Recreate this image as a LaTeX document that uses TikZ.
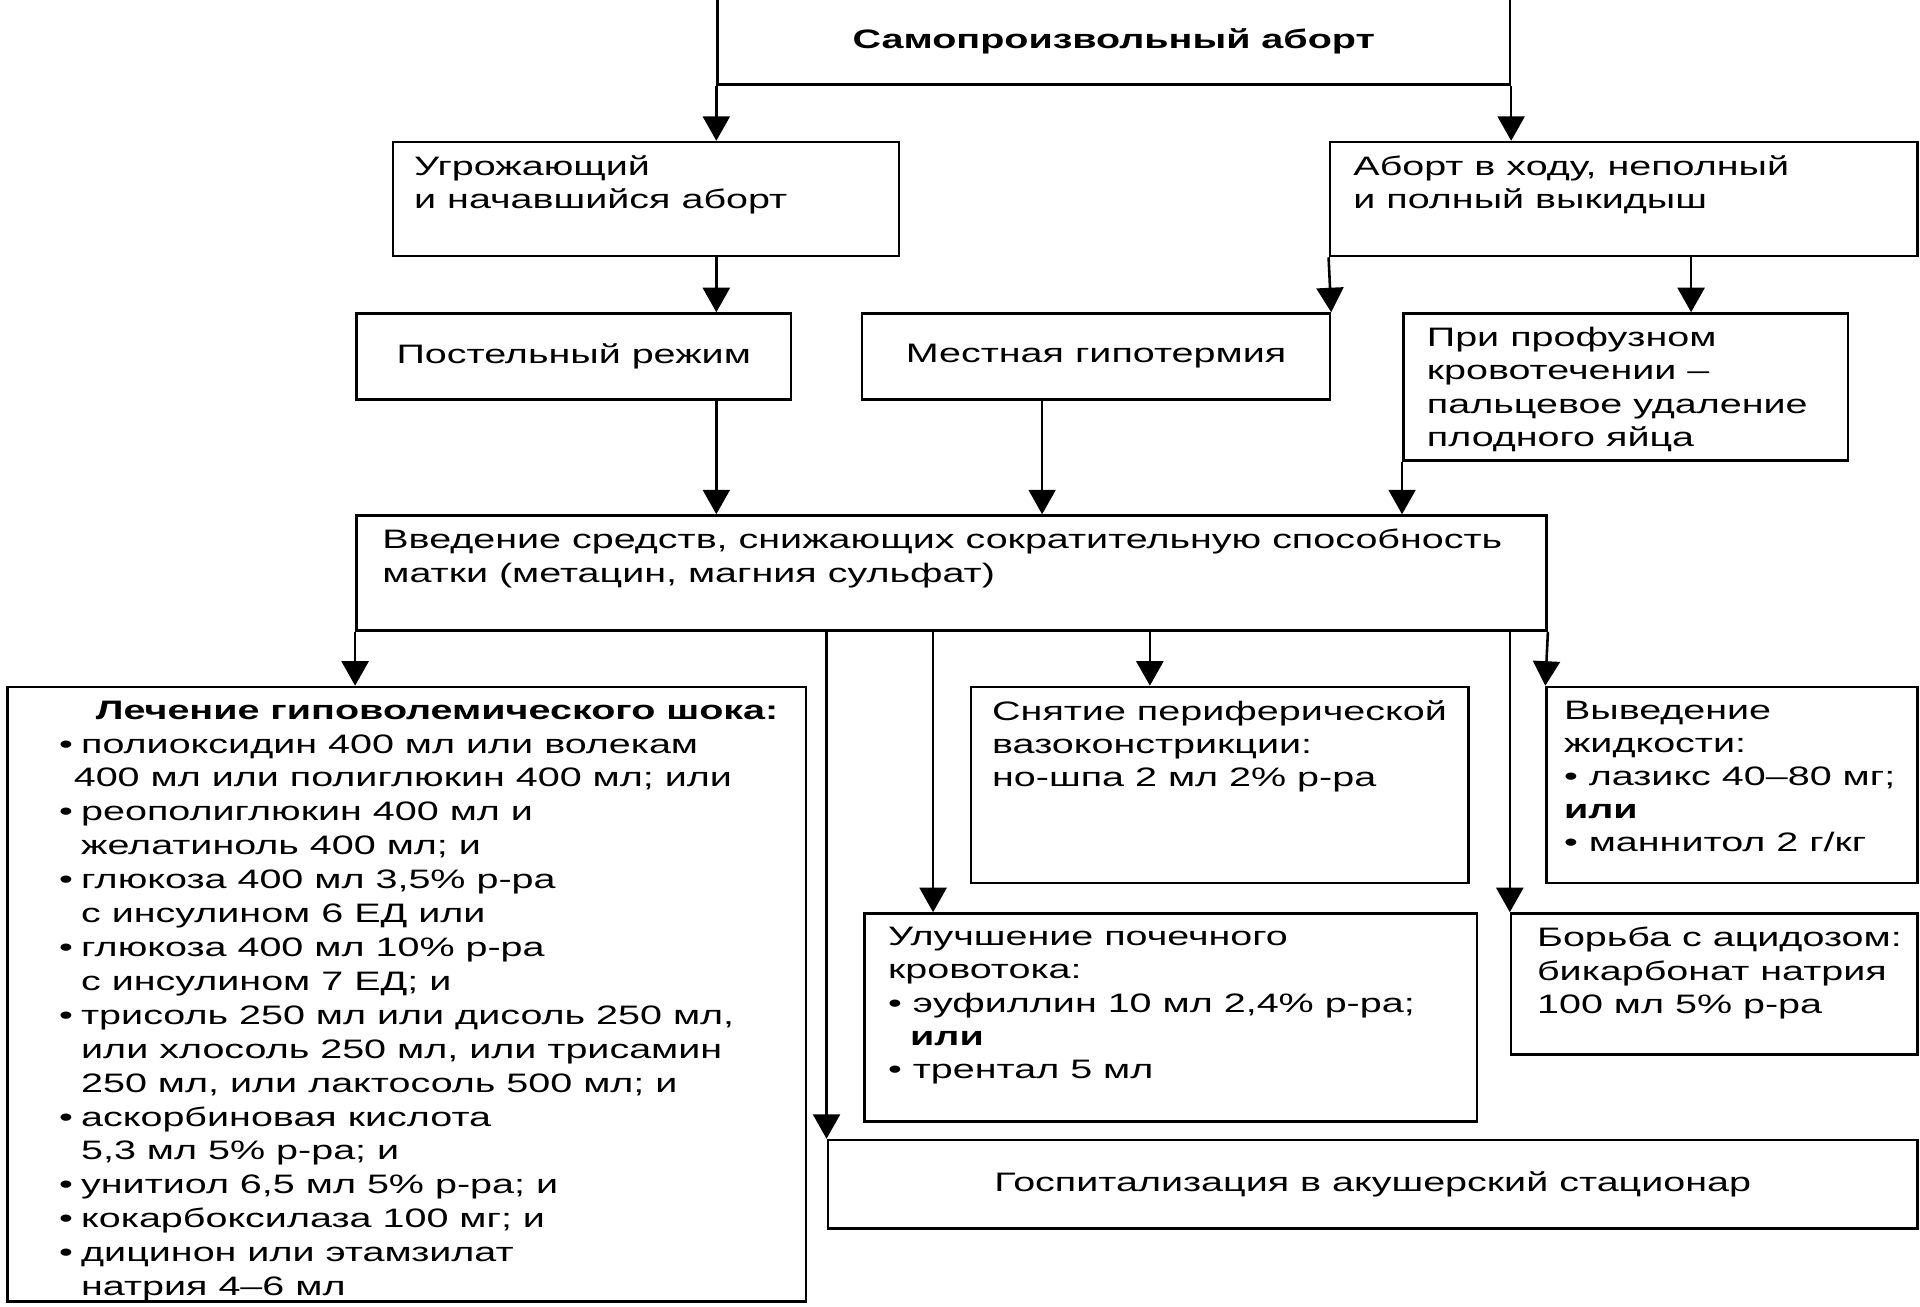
\documentclass[tikz,border=0pt]{standalone}
\usepackage{fontspec}
\setmainfont{Liberation Sans}[FakeStretch=1.48]
\usetikzlibrary{arrows.meta}
\newcommand{\blt}{\makebox[0.45cm][l]{\textbullet}}
\newcommand{\indnt}{\hspace*{0.45cm}}
\tikzset{
  blok/.style={draw, line width=1.5pt, anchor=north west, inner sep=0pt},
  txt/.style={anchor=north west, align=left, inner sep=0pt, font=\fontsize{15.5}{19.3}\selectfont},
  mid/.style={inner sep=0pt, font=\fontsize{15.5}{19.3}\selectfont},
  arr/.style={line width=1.5pt, -{Triangle[width=0.55cm,length=0.5cm]}}
}
\begin{document}
\begin{tikzpicture}
\useasboundingbox[fill=white] (0,0) rectangle (39.2,26.675);
\foreach \n/\x/\y/\w/\h in {samo/14.625/26.725/16.175/1.75, ugr/8/23.8/10.325/2.325,
  abort/27.125/23.8/12/2.325, post/7.25/20.3/8.875/1.75, mest/17.575/20.3/9.55/1.75,
  prof/28.625/20.3/9.075/3, vved/7.25/16.175/24.3/2.35, lech/0.125/12.675/16.3/12.55,
  snyat/19.8/12.675/10.15/4, vyved/31.55/12.675/7.575/4, uluch/17.625/8.05/12.5/4.25,
  borba/30.825/8.05/8.3/2.875, gosp/16.875/3.425/22.25/1.8}{
\node[blok, minimum width=\w cm, minimum height=\h cm] (\n) at (\x,\y) {};
}
% texts
\node[mid] (samot) at (samo) {\textbf{Самопроизвольный аборт}};
\node[txt] (ugrt) at ([xshift=0.45cm,yshift=-0.3cm]ugr.north west) {Угрожающий\\и начавшийся аборт};
\node[txt] (abortt) at ([xshift=0.5cm,yshift=-0.3cm]abort.north west) {Аборт в ходу, неполный\\и полный выкидыш};
\node[mid] (postt) at (post) {Постельный режим};
\node[mid] (mestt) at (mest) {Местная гипотермия};
\node[txt] (proft) at ([xshift=0.5cm,yshift=-0.3cm]prof.north west) {При профузном\\кровотечении –\\пальцевое удаление\\плодного яйца};
\node[txt] (vvedt) at ([xshift=0.55cm,yshift=-0.3cm]vved.north west) {Введение средств, снижающих сократительную способность\\матки (метацин, магния сульфат)};
\node[txt, font=\fontsize{15.5}{19.7}\selectfont] (lecht) at ([xshift=1.075cm,yshift=-0.3cm]lech.north west) {\hspace*{0.75cm}\textbf{Лечение гиповолемического шока:}\\
\blt полиоксидин 400 мл или волекам\\
\hspace*{0.3cm}400 мл или полиглюкин 400 мл; или\\
\blt реополиглюкин 400 мл и\\
\indnt желатиноль 400 мл; и\\
\blt глюкоза 400 мл 3,5\% р-ра\\
\indnt с инсулином 6 ЕД или\\
\blt глюкоза 400 мл 10\% р-ра\\
\indnt с инсулином 7 ЕД; и\\
\blt трисоль 250 мл или дисоль 250 мл,\\
\indnt или хлосоль 250 мл, или трисамин\\
\indnt 250 мл, или лактосоль 500 мл; и\\
\blt аскорбиновая кислота\\
\indnt 5,3 мл 5\% р-ра; и\\
\blt унитиол 6,5 мл 5\% р-ра; и\\
\blt кокарбоксилаза 100 мг; и\\
\blt дицинон или этамзилат\\
\indnt натрия 4–6 мл};
\node[txt] (snyatt) at ([xshift=0.45cm,yshift=-0.3cm]snyat.north west) {Снятие периферической\\вазоконстрикции:\\но-шпа 2 мл 2\% р-ра};
\node[txt] (vyvedt) at ([xshift=0.375cm,yshift=-0.3cm]vyved.north west) {Выведение\\жидкости:\\\textbullet\ лазикс 40–80 мг;\\\textbf{или}\\\textbullet\ маннитол 2 г/кг};
\node[txt] (uluckt) at ([xshift=0.5cm,yshift=-0.3cm]uluch.north west) {Улучшение почечного\\кровотока:\\\textbullet\ эуфиллин 10 мл 2,4\% р-ра;\\\indnt\textbf{или}\\\textbullet\ трентал 5 мл};
\node[txt] (borbat) at ([xshift=0.55cm,yshift=-0.3cm]borba.north west) {Борьба с ацидозом:\\бикарбонат натрия\\100 мл 5\% р-ра};
\node[mid] (gospt) at (gosp) {Госпитализация в акушерский стационар};
% arrows
\coordinate (p1) at ([xshift=1.375cm]abort.south);
\coordinate (p2) at ([xshift=-1.1cm]mest.south);
\coordinate (p3) at ([xshift=1.425cm]uluch.north west);
\coordinate (p4) at ([xshift=-1.425cm]snyat.north);
\draw[arr] (samo.south west) -- (samo.south west |- ugr.north);
\draw[arr] (samo.south east) -- (samo.south east |- abort.north);
\draw[arr] (samo.south west |- ugr.south) -- (samo.south west |- post.north);
\draw[arr] (abort.south west) -- (mest.north east);
\draw[arr] (p1) -- (p1 |- prof.north);
\draw[arr] (samo.south west |- post.south) -- (samo.south west |- vved.north);
\draw[arr] (p2) -- (p2 |- vved.north);
\draw[arr] (prof.south west) -- (prof.south west |- vved.north);
\draw[arr] (vved.south west) -- (vved.south west |- lech.north);
\draw[arr] (gosp.north west |- vved.south) -- (gosp.north west);
\draw[arr] (p3 |- vved.south) -- (p3);
\draw[arr] (p4 |- vved.south) -- (p4);
\draw[arr] (borba.north west |- vved.south) -- (borba.north west);
\draw[arr] (vved.south east) -- (vyved.north west);
\end{tikzpicture}
\end{document}
